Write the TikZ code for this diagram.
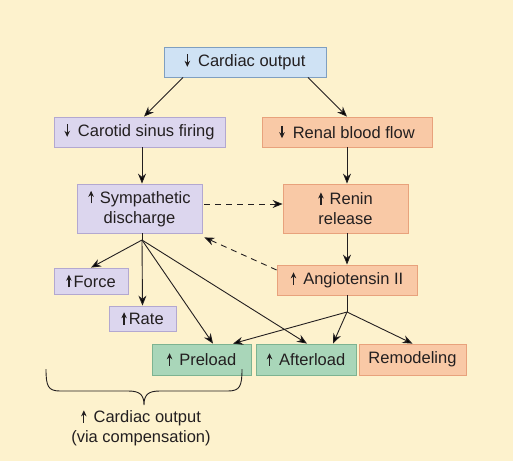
\documentclass[tikz,border=0pt]{standalone}
\usepackage{fontspec}
\setmainfont{Liberation Sans}
\usetikzlibrary{arrows.meta}
\definecolor{bg}{HTML}{FDF2CD}
\definecolor{txt}{HTML}{231F20}
\definecolor{bluef}{HTML}{CFE2F4}
\definecolor{blued}{HTML}{7F9FC0}
\definecolor{lavf}{HTML}{DCD6EE}
\definecolor{lavd}{HTML}{B3A8D0}
\definecolor{peachf}{HTML}{F9C9A6}
\definecolor{peachd}{HTML}{E8A27C}
\definecolor{greenf}{HTML}{A9D6B9}
\definecolor{greend}{HTML}{7DB391}
\newcommand{\uparr}{\tikz[baseline=0pt]\draw[txt,line width=1.2pt,-{Stealth[length=6pt,width=5.5pt]}] (0pt,0pt)--(0pt,12.5pt);}
\newcommand{\dnarr}{\tikz[baseline=0pt]\draw[txt,line width=1.2pt,-{Stealth[length=6pt,width=5.5pt]}] (0pt,12.5pt)--(0pt,0pt);}
\tikzset{
  box/.style={draw, line width=0.8pt, inner sep=0pt, text=txt, align=center},
  bluebox/.style={box, fill=bluef, draw=blued},
  lavbox/.style={box, fill=lavf, draw=lavd},
  peachbox/.style={box, fill=peachf, draw=peachd},
  greenbox/.style={box, fill=greenf, draw=greend},
  conn/.style={draw=txt, line width=0.9pt, -{Stealth[length=10pt,width=8pt]}},
  dconn/.style={conn, dash pattern=on 6pt off 5pt},
  plain/.style={draw=txt, line width=0.9pt}
}
\begin{document}
\begin{tikzpicture}[x=1pt,y=-1pt,font=\fontsize{16.5}{20}\selectfont]
\fill[bg] (0,0) rectangle (513,461);
\useasboundingbox (0,0) rectangle (513,461);

\node[bluebox, minimum width=162pt, minimum height=30pt] (co) at (245,62) {\dnarr\hspace{8pt}Cardiac output};
\node[lavbox, minimum width=171pt, minimum height=30pt] (cs) at (139.5,132) {\dnarr\hspace{8pt}Carotid sinus firing};
\node[peachbox, minimum width=170pt, minimum height=30pt] (rb) at (347,132) {\dnarr\hspace{8pt}Renal blood flow};
\node[lavbox, minimum width=125pt, minimum height=49pt] (sd) at (139.5,208.5) {\uparr\hspace{6pt}Sympathetic\\discharge};
\node[peachbox, minimum width=125pt, minimum height=49pt] (rr) at (345.5,208.5) {\uparr\hspace{6pt}Renin\\release};
\node[peachbox, minimum width=140pt, minimum height=30pt] (at) at (347,280) {\uparr\hspace{7pt}Angiotensin II};
\node[lavbox, minimum width=74pt, minimum height=26pt] (fo) at (91,281) {\uparr\hspace{2pt}Force};
\node[lavbox, minimum width=67pt, minimum height=25pt] (ra) at (142.5,318.5) {\uparr\hspace{2pt}Rate};
\node[greenbox, minimum width=99pt, minimum height=31pt] (pr) at (201.5,359.5) {\uparr\hspace{7pt}Preload};
\node[greenbox, minimum width=100pt, minimum height=31pt] (af) at (306,359.5) {\uparr\hspace{7pt}Afterload};
\node[peachbox, minimum width=107pt, minimum height=31pt] (re) at (412.5,359.5) {Remodeling};

\node[text=txt, align=center, inner sep=0pt] (out) at (141,428) {\uparr\hspace{7pt}Cardiac output\\(via compensation)};

\coordinate (fs) at (142,240);
\coordinate (fa) at (347,312);

\draw[conn] ([xshift=-62pt]co.south) -- ([xshift=4.5pt]cs.north);
\draw[conn] ([xshift=63pt]co.south) -- (rb.north);
\draw[conn] ([xshift=2.5pt]cs.south) -- ([xshift=2.5pt]sd.north);
\draw[conn] (rb.south) -- ([xshift=1.5pt]rr.north);
\draw[conn] ([xshift=1.5pt]rr.south) -- (at.north);
\draw[dconn] ([xshift=2pt,yshift=4.5pt]sd.east) -- ([yshift=4.5pt]rr.west);
\draw[dconn] ([yshift=10pt]at.west) -- ([xshift=2pt,yshift=-4pt]sd.south east);

\draw[plain] ([xshift=2.5pt]sd.south) -- (fs);
\draw[conn] (fs) -- (fo.north);
\draw[conn] (fs) -- (ra.north);
\draw[conn] (fs) -- ([xshift=11.5pt]pr.north);
\draw[conn] (fs) -- ([xshift=1pt]af.north);

\draw[plain] (at.south) -- (fa);
\draw[conn] (fa) -- ([xshift=31.5pt]pr.north);
\draw[conn] (fa) -- ([xshift=27pt]af.north);
\draw[conn] (fa) -- (re.north);

\draw[plain] (46,369) .. controls (46,386) and (48,391) .. (60,391) -- (128,391)
  .. controls (139,391) and (144,394) .. (144,405)
  .. controls (144,394) and (149,391) .. (160,391) -- (228,391)
  .. controls (240,391) and (242,386) .. (242,369);
\end{tikzpicture}
\end{document}
